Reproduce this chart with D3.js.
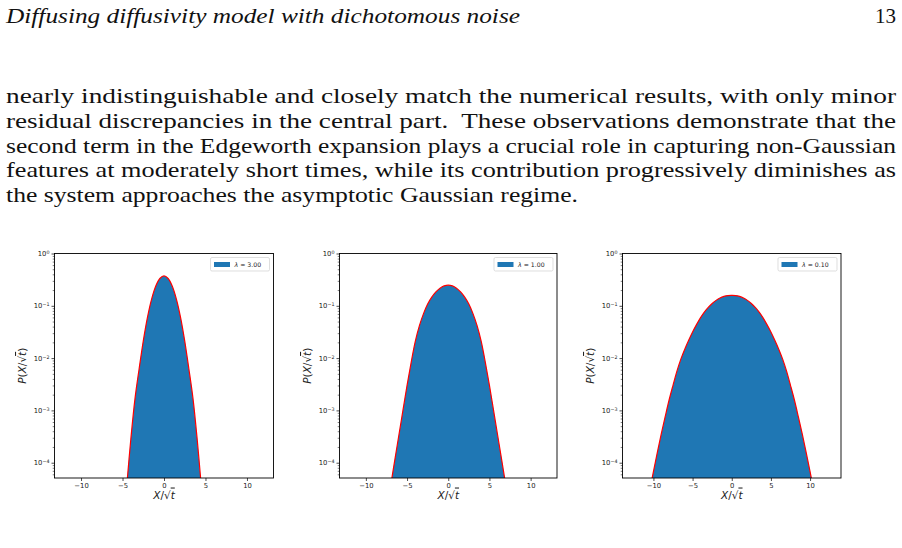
<!DOCTYPE html>
<html><head><meta charset="utf-8">
<script src="https://cdn.jsdelivr.net/npm/d3@7"></script>
<style>body{margin:0;background:#fff;} svg{display:block;}</style>
</head><body>
<svg id="c" width="902" height="548"></svg>
<script>
// ---------- text content ----------
const headerText = "Diffusing diffusivity model with dichotomous noise";
const pageNumber = "13";
const bodyLines = [
  "nearly indistinguishable and closely match the numerical results, with only minor",
  "residual discrepancies in the central part.  These observations demonstrate that the",
  "second term in the Edgeworth expansion plays a crucial role in capturing non-Gaussian",
  "features at moderately short times, while its contribution progressively diminishes as",
  "the system approaches the asymptotic Gaussian regime."
];

// ---------- chart data ----------
const lambdaLabels = ["3.00", "1.00", "0.10"];
const xTicks = [-10, -5, 0, 5, 10];
const yMajorTicks = [1, 1e-1, 1e-2, 1e-3, 1e-4];
const yMinorTicks = [
  9e-1,8e-1,7e-1,6e-1,5e-1,4e-1,3e-1,2e-1,
  9e-2,8e-2,7e-2,6e-2,5e-2,4e-2,3e-2,2e-2,
  9e-3,8e-3,7e-3,6e-3,5e-3,4e-3,3e-3,2e-3,
  9e-4,8e-4,7e-4,6e-4,5e-4,4e-4,3e-4,2e-4,
  9e-5,8e-5,7e-5,6e-5
];

// panel 1 : lambda = 3.00
const xs1 = [-4.5,-4,-3.5,-3,-2.5,-2,-1.5,-1,-0.5,0,0.5,1,1.5,2,2.5,3,3.5,4,4.5];
const ps1 = [3.5e-5,2.8e-4,1.66e-3,6.2e-3,0.0212,0.0596,0.133,0.236,0.333,0.373,
             0.333,0.236,0.133,0.0596,0.0212,6.2e-3,1.66e-3,2.8e-4,3.5e-5];

// panel 2 : lambda = 1.00
const xs2 = [-7,-6.5,-6,-5.5,-5,-4.5,-4,-3.5,-3,-2.5,-2,-1.5,-1,-0.5,0,
             0.5,1,1.5,2,2.5,3,3.5,4,4.5,5,5.5,6,6.5,7];
const ps2 = [3.55e-5,1.10e-4,3.31e-4,1.0e-3,3.02e-3,8.32e-3,0.0209,0.0417,0.0708,0.108,0.146,0.184,0.217,0.240,0.248,
             0.240,0.217,0.184,0.146,0.108,0.0708,0.0417,0.0209,8.32e-3,3.02e-3,1.0e-3,3.31e-4,1.10e-4,3.55e-5];

// panel 3 : lambda = 0.10
const xs3 = [-10.5,-10,-9.5,-9,-8.5,-8,-7.5,-7,-6.5,-6,-5.5,-5,-4.5,-4,-3.5,-3,-2.5,-2,-1.5,-1,-0.5,0,
             0.5,1,1.5,2,2.5,3,3.5,4,4.5,5,5.5,6,6.5,7,7.5,8,8.5,9,9.5,10,10.5];
const ps3 = [2.82e-5,6.76e-5,1.58e-4,3.55e-4,7.59e-4,1.58e-3,3.02e-3,5.62e-3,9.55e-3,0.0148,0.0219,0.0316,0.0437,0.0589,0.0759,0.0933,0.111,0.127,0.141,0.151,0.157,0.158,
             0.157,0.151,0.141,0.127,0.111,0.0933,0.0759,0.0589,0.0437,0.0316,0.0219,0.0148,9.55e-3,5.62e-3,3.02e-3,1.58e-3,7.59e-4,3.55e-4,1.58e-4,6.76e-5,2.82e-5];

const seriesX = [xs1, xs2, xs3];
const seriesP = [ps1, ps2, ps3];
const xLimits = [13.2, 13.2, 13.95];
const yLimits = [5.1e-5, 1];

// ---------- layout ----------
const panels = [
  {left: 54.5, right: 273.5},
  {left: 339.5, right: 557},
  {left: 622.5, right: 841}
];
const plotTop = 253.5, plotBottom = 478;
const histBlue = "#1f77b4";

const svg = d3.select("#c");
svg.append("rect").attr("width", 902).attr("height", 548).attr("fill", "#fff");

// header
svg.append("text").attr("x", 6).attr("y", 23)
  .attr("font-family", "'Liberation Serif', serif").attr("font-style", "italic")
  .attr("font-size", 21).attr("fill", "#111")
  .attr("textLength", 514).attr("lengthAdjust", "spacingAndGlyphs")
  .text(headerText);
svg.append("text").attr("x", 896).attr("y", 23).attr("text-anchor", "end")
  .attr("font-family", "'Liberation Serif', serif").attr("font-size", 21).attr("fill", "#111")
  .text(pageNumber);

// body
const bodyBaselines = [103, 128, 152.5, 177, 201.5];
bodyLines.forEach((ln, i) => {
  const t = svg.append("text").attr("x", 6).attr("y", bodyBaselines[i])
    .attr("font-family", "'Liberation Serif', serif").attr("font-size", 21).attr("fill", "#111")
    .attr("xml:space", "preserve")
    .text(ln);
  t.attr("textLength", i < 4 ? 890 : 572).attr("lengthAdjust", "spacingAndGlyphs");
});

const fmtMinus = d => d < 0 ? "\u2212" + (-d) : String(d);
const supMap = {"0":"0","-1":"\u22121","-2":"\u22122","-3":"\u22123","-4":"\u22124"};

panels.forEach((pn, i) => {
  const g = svg.append("g");
  const x = d3.scaleLinear().domain([-xLimits[i], xLimits[i]]).range([pn.left, pn.right]);
  const y = d3.scaleLog().domain(yLimits).range([plotBottom, plotTop]);

  const clipId = "clip" + i;
  svg.append("clipPath").attr("id", clipId).append("rect")
    .attr("x", pn.left).attr("y", plotTop).attr("width", pn.right - pn.left).attr("height", plotBottom - plotTop);

  const data = seriesX[i].map((v, k) => ({x: v, p: seriesP[i][k]}));
  const area = d3.area().x(d => x(d.x)).y0(plotBottom).y1(d => y(d.p)).curve(d3.curveCatmullRom);
  const line = d3.line().x(d => x(d.x)).y(d => y(d.p)).curve(d3.curveCatmullRom);

  const cg = g.append("g").attr("clip-path", `url(#${clipId})`);
  cg.append("path").datum(data).attr("d", area).attr("fill", histBlue);
  cg.append("path").datum(data).attr("d", line).attr("fill", "none").attr("stroke", "#ff0000").attr("stroke-width", 1.2);

  // x axis
  const xa = g.append("g").attr("transform", `translate(0,${plotBottom})`)
    .call(d3.axisBottom(x).tickValues(xTicks).tickSize(3).tickPadding(2).tickFormat(fmtMinus));
  xa.select(".domain").remove();
  xa.selectAll("line").attr("stroke", "#000").attr("stroke-width", 0.7);
  xa.selectAll("text").attr("font-family", "'DejaVu Sans', sans-serif").attr("font-size", 6.8).attr("fill", "#222");

  // y axis minor
  const ym = g.append("g").attr("transform", `translate(${pn.left},0)`)
    .call(d3.axisLeft(y).tickValues(yMinorTicks).tickSize(1.8).tickFormat(""));
  ym.select(".domain").remove();
  ym.selectAll("line").attr("stroke", "#000").attr("stroke-width", 0.5);

  // y axis major
  const ya = g.append("g").attr("transform", `translate(${pn.left},0)`)
    .call(d3.axisLeft(y).tickValues(yMajorTicks).tickSize(3).tickPadding(2).tickFormat(""));
  ya.select(".domain").remove();
  ya.selectAll("line").attr("stroke", "#000").attr("stroke-width", 0.7);
  ya.selectAll(".tick").each(function(d) {
    const e = Math.round(Math.log10(d));
    const t = d3.select(this).select("text")
      .attr("font-family", "'DejaVu Sans', sans-serif").attr("font-size", 6.8).attr("fill", "#222");
    t.text(null);
    t.append("tspan").text("10");
    t.append("tspan").attr("dy", "-0.45em").attr("font-size", 4.8).text(supMap[String(e)]);
  });

  // spines
  g.append("rect").attr("x", pn.left).attr("y", plotTop)
    .attr("width", pn.right - pn.left).attr("height", plotBottom - plotTop)
    .attr("fill", "none").attr("stroke", "#000").attr("stroke-width", 0.9);

  // y label
  const yl = g.append("text")
    .attr("transform", `translate(${pn.left - 28.5},${(plotTop + plotBottom) / 2}) rotate(-90)`)
    .attr("text-anchor", "middle").attr("font-family", "'DejaVu Sans', sans-serif")
    .attr("font-size", 10.5).attr("fill", "#222");
  yl.append("tspan").attr("font-style", "italic").text("P");
  yl.append("tspan").text("(");
  yl.append("tspan").attr("font-style", "italic").text("X");
  yl.append("tspan").text("/\u221A");
  yl.append("tspan").attr("font-style", "italic").attr("text-decoration", "overline").text("t");
  yl.append("tspan").text(")");

  // x label
  const xl = g.append("text")
    .attr("x", (pn.left + pn.right) / 2).attr("y", 498.5)
    .attr("text-anchor", "middle").attr("font-family", "'DejaVu Sans', sans-serif")
    .attr("font-size", 10.5).attr("fill", "#222");
  xl.append("tspan").attr("font-style", "italic").text("X");
  xl.append("tspan").text("/\u221A");
  xl.append("tspan").attr("font-style", "italic").attr("text-decoration", "overline").text("t");

  // legend
  const lg = g.append("g").attr("transform", `translate(${pn.right - 63},${plotTop + 4})`);
  lg.append("rect").attr("width", 59).attr("height", 13.5).attr("rx", 1.5)
    .attr("fill", "#fff").attr("stroke", "#d0d0d0").attr("stroke-width", 0.7);
  lg.append("rect").attr("x", 3.5).attr("y", 4.5).attr("width", 16).attr("height", 5).attr("fill", histBlue);
  const lt = lg.append("text").attr("x", 24).attr("y", 9.3)
    .attr("font-family", "'DejaVu Sans', sans-serif").attr("font-size", 6.2).attr("fill", "#222");
  lt.append("tspan").attr("font-style", "italic").text("\u03BB");
  lt.append("tspan").text(" = " + lambdaLabels[i]);
});
</script>
</body></html>
